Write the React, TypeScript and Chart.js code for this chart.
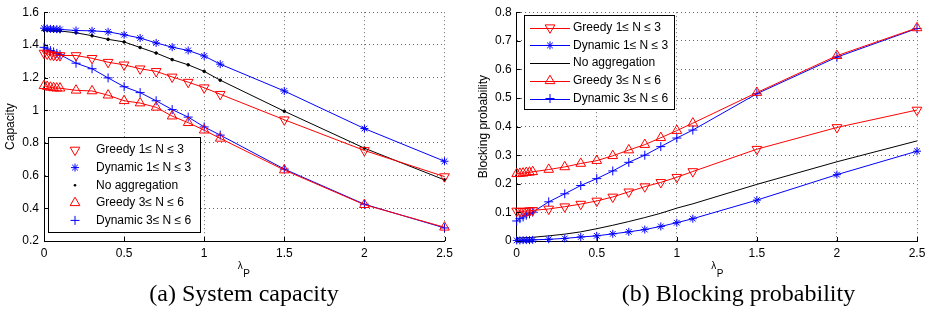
import React, { useEffect, useRef } from 'react';
import { Chart, registerables } from 'chart.js';

Chart.register(...registerables);

// ---------- data ----------
const lambdaP = [0, 0.02, 0.04, 0.06, 0.08, 0.1, 0.2, 0.3, 0.4, 0.5, 0.6, 0.7, 0.8, 0.9, 1.0, 1.1, 1.5, 2, 2.5];

const seriesLabels = [
  'Greedy 1\u2264 N \u2264 3',
  'Dynamic 1\u2264 N \u2264 3',
  'No aggregation',
  'Greedy 3\u2264 N \u2264 6',
  'Dynamic 3\u2264 N \u2264 6',
];

// (a) System capacity
const capGreedy13 = [1.350, 1.345, 1.340, 1.337, 1.335, 1.335, 1.335, 1.318, 1.294, 1.278, 1.254, 1.238, 1.204, 1.172, 1.138, 1.098, 0.942, 0.754, 0.594];
const capDynamic13 = [1.502, 1.500, 1.498, 1.497, 1.496, 1.495, 1.488, 1.486, 1.480, 1.462, 1.442, 1.412, 1.386, 1.366, 1.332, 1.282, 1.118, 0.888, 0.688];
const capNoAgg = [1.490, 1.489, 1.488, 1.487, 1.486, 1.485, 1.474, 1.456, 1.434, 1.418, 1.384, 1.350, 1.310, 1.278, 1.238, 1.184, 0.994, 0.768, 0.574];
const capGreedy36 = [1.150, 1.145, 1.140, 1.137, 1.135, 1.135, 1.122, 1.118, 1.092, 1.058, 1.044, 1.018, 0.964, 0.924, 0.878, 0.828, 0.634, 0.422, 0.284];
const capDynamic36 = [1.385, 1.375, 1.365, 1.357, 1.348, 1.340, 1.288, 1.254, 1.198, 1.144, 1.108, 1.058, 1.004, 0.958, 0.898, 0.848, 0.640, 0.425, 0.280];

// (b) Blocking probability
const bpGreedy13 = [0.105, 0.104, 0.104, 0.105, 0.106, 0.107, 0.112, 0.120, 0.129, 0.140, 0.154, 0.172, 0.190, 0.205, 0.223, 0.243, 0.321, 0.397, 0.458];
const bpDynamic13 = [0.002, 0.002, 0.003, 0.003, 0.003, 0.004, 0.006, 0.009, 0.014, 0.018, 0.025, 0.032, 0.040, 0.051, 0.064, 0.078, 0.143, 0.232, 0.314];
const bpNoAgg = [0.010, 0.011, 0.011, 0.012, 0.012, 0.013, 0.018, 0.024, 0.032, 0.043, 0.055, 0.068, 0.082, 0.097, 0.115, 0.130, 0.198, 0.277, 0.350];
const bpGreedy36 = [0.235, 0.236, 0.237, 0.239, 0.240, 0.242, 0.250, 0.259, 0.271, 0.281, 0.298, 0.318, 0.337, 0.361, 0.386, 0.412, 0.519, 0.648, 0.745];
const bpDynamic36 = [0.070, 0.078, 0.084, 0.090, 0.095, 0.101, 0.137, 0.165, 0.194, 0.218, 0.245, 0.275, 0.300, 0.330, 0.360, 0.388, 0.515, 0.643, 0.743];

// ticks
const xTicks = [0, 0.5, 1, 1.5, 2, 2.5];
const capTicks = [0.2, 0.4, 0.6, 0.8, 1, 1.2, 1.4, 1.6];
const bpTicks = [0, 0.1, 0.2, 0.3, 0.4, 0.5, 0.6, 0.7, 0.8];

// ---------- styling ----------
const RED = '#ff0000';
const BLUE = '#0000ff';
const BLACK = '#000000';
const SANS = '"Liberation Sans", Arial, Helvetica, sans-serif';
const SERIF = '"Liberation Serif", "Times New Roman", serif';

function drawMarker(ctx: CanvasRenderingContext2D, style: string, rot: number, x: number, y: number, r: number, color: string) {
  ctx.save();
  ctx.translate(x, y);
  ctx.rotate((rot * Math.PI) / 180);
  ctx.strokeStyle = color;
  ctx.fillStyle = color;
  ctx.lineWidth = 1;
  ctx.beginPath();
  if (style === 'triangle') {
    for (let k = 0; k < 3; k++) {
      const a = (k * 2 * Math.PI) / 3;
      const px = Math.sin(a) * r;
      const py = -Math.cos(a) * r;
      if (k === 0) ctx.moveTo(px, py);
      else ctx.lineTo(px, py);
    }
    ctx.closePath();
    ctx.stroke();
  } else if (style === 'star') {
    ctx.moveTo(-r, 0); ctx.lineTo(r, 0);
    ctx.moveTo(0, -r); ctx.lineTo(0, r);
    const d = r * Math.SQRT1_2;
    ctx.moveTo(-d, -d); ctx.lineTo(d, d);
    ctx.moveTo(-d, d); ctx.lineTo(d, -d);
    ctx.stroke();
  } else if (style === 'cross') {
    ctx.moveTo(-r, 0); ctx.lineTo(r, 0);
    ctx.moveTo(0, -r); ctx.lineTo(0, r);
    ctx.stroke();
  } else {
    ctx.arc(0, 0, r, 0, Math.PI * 2);
    ctx.fill();
  }
  ctx.restore();
}

const legendPlugin = {
  id: 'boxLegend',
  afterDraw(chart: any, _args: any, o: any) {
    const ctx: CanvasRenderingContext2D = chart.ctx;
    ctx.save();
    const [x0, y0, x1, y1] = o.box;
    ctx.fillStyle = '#fff';
    ctx.fillRect(x0, y0, x1 - x0, y1 - y0);
    ctx.strokeStyle = '#000';
    ctx.lineWidth = 1;
    ctx.strokeRect(x0 + 0.5, y0 + 0.5, x1 - x0, y1 - y0);
    ctx.font = `12px ${SANS}`;
    ctx.textBaseline = 'middle';
    ctx.textAlign = 'left';
    chart.data.datasets.forEach((ds: any, i: number) => {
      const y = o.rowY0 + i * o.rowGap;
      if (o.showLines) {
        ctx.strokeStyle = ds.borderColor;
        ctx.lineWidth = 1;
        ctx.beginPath();
        ctx.moveTo(o.lineX0, Math.round(y) + 0.5);
        ctx.lineTo(o.lineX1, Math.round(y) + 0.5);
        ctx.stroke();
      }
      if (ds.pointRadius > 0) {
        drawMarker(ctx, ds.pointStyle, ds.pointRotation || 0, o.markerX, y, ds.pointRadius, ds.borderColor);
      }
      ctx.fillStyle = '#000';
      ctx.fillText(ds.label, o.textX, y);
    });
    ctx.restore();
  },
};

const textPlugin = {
  id: 'axisText',
  afterDraw(chart: any, _args: any, o: any) {
    const ctx: CanvasRenderingContext2D = chart.ctx;
    const { chartArea, scales } = chart;
    ctx.save();
    // inward tick marks (MATLAB style)
    ctx.strokeStyle = '#000';
    ctx.lineWidth = 1;
    ctx.beginPath();
    scales.x.ticks.forEach((t: any) => {
      const px = Math.round(scales.x.getPixelForValue(t.value)) + 0.5;
      ctx.moveTo(px, chartArea.bottom);
      ctx.lineTo(px, chartArea.bottom - 4);
    });
    scales.y.ticks.forEach((t: any) => {
      const py = Math.round(scales.y.getPixelForValue(t.value)) + 0.5;
      ctx.moveTo(chartArea.left, py);
      ctx.lineTo(chartArea.left + 4, py);
    });
    ctx.stroke();
    // x title: lambda_P
    const cx = (chartArea.left + chartArea.right) / 2 + o.xTitleDx;
    ctx.fillStyle = '#000';
    ctx.textBaseline = 'alphabetic';
    ctx.font = `10px ${SANS}`;
    ctx.textAlign = 'right';
    ctx.fillText('\u03bb', cx, o.lambdaY);
    ctx.font = `10px ${SANS}`;
    ctx.textAlign = 'left';
    ctx.fillText('P', cx + 0.5, o.lambdaY + 8);
    // caption
    ctx.font = `24px ${SERIF}`;
    ctx.textAlign = 'center';
    ctx.fillText(o.caption, o.captionX, o.captionY);
    ctx.restore();
  },
};

function makeDataset(label: string, values: number[], color: string, style: string, radius: number, rotation = 0) {
  return {
    label,
    data: lambdaP.map((x, i) => ({ x, y: values[i] })),
    borderColor: color,
    backgroundColor: 'transparent',
    borderWidth: 1,
    pointStyle: style,
    pointRadius: radius,
    pointRotation: rotation,
    pointBorderWidth: 1,
    pointBorderColor: color,
    pointBackgroundColor: style === 'circle' ? color : 'transparent',
    tension: 0,
    fill: false,
    clip: false,
  };
}

function makeConfig(p: {
  datasets: any[];
  yTicks: number[];
  yMin: number;
  yMax: number;
  yTitle: string;
  yTitlePad: number;
  yWidth: number;
  padTop: number;
  padRight: number;
  legend: any;
  text: any;
}) {
  const grid = { color: 'rgba(0,0,0,0.6)', lineWidth: 1, drawTicks: false };
  const border = { display: true, color: '#000', width: 1, dash: [1, 3] };
  return {
    type: 'line',
    data: { datasets: p.datasets },
    plugins: [legendPlugin, textPlugin],
    options: {
      responsive: false,
      animation: false,
      events: [],
      layout: { padding: { left: 0, top: p.padTop, right: p.padRight, bottom: 0 } },
      plugins: {
        legend: { display: false },
        tooltip: { enabled: false },
        title: { display: false },
        boxLegend: p.legend,
        axisText: p.text,
      },
      scales: {
        x: {
          type: 'linear',
          min: 0,
          max: 2.5,
          grid,
          border,
          afterBuildTicks: (s: any) => { s.ticks = xTicks.map((v) => ({ value: v })); },
          afterFit: (s: any) => { s.height = 78; },
          ticks: {
            padding: 5,
            color: '#000',
            font: { family: SANS, size: 12 },
            maxRotation: 0,
            callback: (v: any) => String(v),
          },
        },
        y: {
          type: 'linear',
          min: p.yMin,
          max: p.yMax,
          grid,
          border,
          afterBuildTicks: (s: any) => { s.ticks = p.yTicks.map((v) => ({ value: v })); },
          afterFit: (s: any) => { s.width = p.yWidth; },
          ticks: {
            padding: 5,
            color: '#000',
            font: { family: SANS, size: 12 },
            callback: (v: any) => String(v),
          },
          title: {
            display: true,
            text: p.yTitle,
            color: '#000',
            font: { family: SANS, size: 12 },
            padding: { top: p.yTitlePad, bottom: 0 },
          },
        },
      },
    },
  };
}

function capacityConfig() {
  return makeConfig({
    datasets: [
      makeDataset(seriesLabels[0], capGreedy13, RED, 'triangle', 5.6, 180),
      makeDataset(seriesLabels[1], capDynamic13, BLUE, 'star', 4),
      makeDataset(seriesLabels[2], capNoAgg, BLACK, 'circle', 1.3),
      makeDataset(seriesLabels[3], capGreedy36, RED, 'triangle', 5.6),
      makeDataset(seriesLabels[4], capDynamic36, BLUE, 'cross', 4.5),
    ],
    yTicks: capTicks,
    yMin: 0.2,
    yMax: 1.6,
    yTitle: 'Capacity',
    yTitlePad: 3,
    yWidth: 44,
    padTop: 8,
    padRight: 23.5,
    legend: { box: [48, 137, 200, 232], showLines: false, markerX: 75, textX: 96, lineX0: 0, lineX1: 0, rowY0: 150, rowGap: 17.6 },
    text: { xTitleDx: -1.5, lambdaY: 269, caption: '(a) System capacity', captionX: 244, captionY: 301 },
  });
}

function blockingConfig() {
  return makeConfig({
    datasets: [
      makeDataset(seriesLabels[0], bpGreedy13, RED, 'triangle', 5.6, 180),
      makeDataset(seriesLabels[1], bpDynamic13, BLUE, 'star', 4),
      makeDataset(seriesLabels[2], bpNoAgg, BLACK, 'circle', 0),
      makeDataset(seriesLabels[3], bpGreedy36, RED, 'triangle', 5.6),
      makeDataset(seriesLabels[4], bpDynamic36, BLUE, 'cross', 4.5),
    ],
    yTicks: bpTicks,
    yMin: 0,
    yMax: 0.8,
    yTitle: 'Blocking probability',
    yTitlePad: 8,
    yWidth: 48.7,
    padTop: 7.3,
    padRight: 19,
    legend: { box: [56, 15, 206, 109], showLines: true, markerX: 82, textX: 105, lineX0: 62, lineX1: 102, rowY0: 27.7, rowGap: 17.7 },
    text: { xTitleDx: -0.5, lambdaY: 269, caption: '(b) Blocking probability', captionX: 270.5, captionY: 301 },
  });
}

function ChartCanvas({ build }: { build: () => any }) {
  const ref = useRef<HTMLCanvasElement | null>(null);
  useEffect(() => {
    if (!ref.current) return;
    const chart = new Chart(ref.current, build());
    return () => chart.destroy();
  }, [build]);
  return <canvas ref={ref} width={468} height={319} style={{ display: 'block', width: 468, height: 319 }} />;
}

export default function App() {
  return (
    <div style={{ position: 'absolute', left: 0, top: 0, width: 936, height: 319, background: '#fff', display: 'flex' }}>
      <ChartCanvas build={capacityConfig} />
      <ChartCanvas build={blockingConfig} />
    </div>
  );
}
